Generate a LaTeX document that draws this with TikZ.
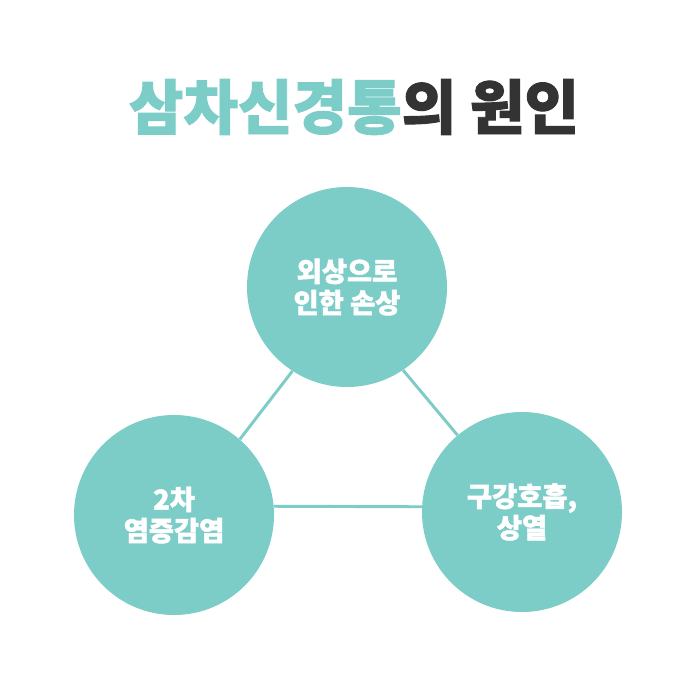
\documentclass[tikz,border=0pt]{standalone}
\usepackage{fontspec}
\setmainfont{Noto Sans CJK KR}[BoldFont={Noto Sans CJK KR Black}, BoldFeatures={FakeBold=1.6}]
\usepackage{xcolor}
\usetikzlibrary{positioning}
\definecolor{mint}{HTML}{7CCCC7}
\definecolor{ink}{HTML}{333333}

\begin{document}
\begin{tikzpicture}[x=0.75pt, y=-0.75pt,
    cause/.style={circle, fill=mint, minimum size=150pt, inner sep=0pt,
        text=white, font=\bfseries\fontsize{20.5}{23.5}\selectfont, align=center},
    link/.style={mint, line width=2.2pt}]

\useasboundingbox[fill=white] (0,0) rectangle (700,700);

% title
\node[font=\bfseries\fontsize{44.5}{44.5}\selectfont] (title) at (354,107)
    {\textcolor{mint}{삼차신경통}\textcolor{ink}{의 원인}};

% circle centres
\coordinate (cTop) at (347,287);
\coordinate (cLeft) at (174,515);
\coordinate (cRight) at (522,512);

\node[cause] (top) at (cTop) {외상으로\\인한 손상};
\node[cause] (left) at (cLeft) {2차\\염증감염};
\node[cause] (right) at (cRight) {구강호흡,\\상열};

% connectors between the circles
\draw[link] (top.237) -- (left.49);
\draw[link] (top.304) -- (right.130);
\draw[link] (left.5) -- (right.177);

\end{tikzpicture}
\end{document}
